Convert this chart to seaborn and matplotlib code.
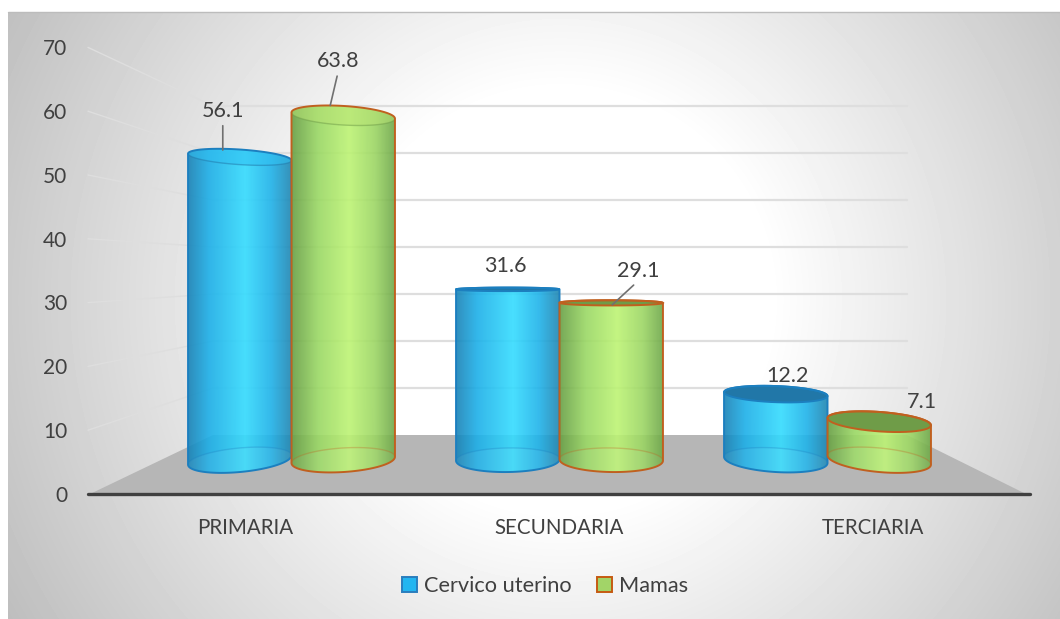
# Cylinder chart: cancer screening by level of care
import numpy as np
import pandas as pd
import seaborn as sns
import matplotlib.pyplot as plt
from matplotlib.colors import LinearSegmentedColormap
from matplotlib.patches import Patch, PathPatch, Polygon
from matplotlib.path import Path

niveles = ['PRIMARIA', 'SECUNDARIA', 'TERCIARIA']
cervico = [56.1, 31.6, 12.2]
mamas = [63.8, 29.1, 7.1]
series = ['Cervico uterino', 'Mamas']
y_ticks = [0, 10, 20, 30, 40, 50, 60, 70]

df = pd.DataFrame({
    'nivel': niveles * 2,
    'pct': cervico + mamas,
    'tipo': [series[0]] * 3 + [series[1]] * 3})

W, H = 1060, 619
sns.set_theme(style='white')
plt.rcParams['font.family'] = ['Lato', 'DejaVu Sans']
text_col = '#404040'

fig = plt.figure(figsize=(W / 100, H / 100), dpi=100, facecolor='white')


def px_axes(left, top, right, bottom, z):
    a = fig.add_axes([left / W, 1 - bottom / H, (right - left) / W, (bottom - top) / H], zorder=z)
    a.patch.set_visible(False)
    return a


# background in pixel coordinates: panel, floor, back wall lines, side wall lines
bg = px_axes(0, 0, W, H, 0)
xx, yy = np.meshgrid(np.arange(8, W), np.arange(12, H))
dist = np.sqrt((xx - 560) ** 2 + (yy - 300) ** 2)
shade = 1 - 0.0006 * np.clip(dist - 210, 0, None)
bg.imshow(shade, cmap='gray', vmin=0, vmax=1, extent=(8, W, H, 12), aspect='auto')
bg.plot([8, W], [12, 12], color='#bcbcbc', lw=1)
bg.add_patch(Polygon([(90, 494), (213, 435), (907, 435), (1026, 494)], color='#b6b6b6', lw=0))
for v in y_ticks[1:]:
    back_y = 435 - 4.7 * v
    bg.plot([213, 907], [back_y, back_y], color='#dedede', lw=1.6)
    bg.plot([88, 213], [494 - 6.38 * v, back_y], color='#dedede', lw=1)
bg.set_xlim(0, W)
bg.set_ylim(H, 0)
bg.axis('off')

# front axis with the tick labels
ax = px_axes(88, 47, 1030, 494, 1)
ax.set_xlim(-0.5, 2.5)
ax.set_ylim(0, 70)
ax.set_xticks(range(3), niveles)
ax.set_yticks(y_ticks)
ax.tick_params(axis='x', length=0, pad=17, colors=text_col, labelsize=14.8)
ax.tick_params(axis='y', length=0, pad=15, colors=text_col, labelsize=15)
sns.despine(ax=ax, left=True)
ax.spines['bottom'].set_color(text_col)
ax.spines['bottom'].set_linewidth(2.4)
ax.spines['bottom'].set_capstyle('round')

# bars live on their own axes, the depth of the chart gives them a smaller scale
PX_X, PX_Y = 268, 5.4
LEFT, BASE = 157.5, 460
Y_LOW = -6  # room under zero for the round base of the cylinders
ax_bars = px_axes(LEFT, BASE - PX_Y * 70, LEFT + PX_X * 3, BASE - PX_Y * Y_LOW, 2)
sns.barplot(data=df, x='nivel', y='pct', hue='tipo', order=niveles, hue_order=series,
            palette=['#22b5f0', '#a2d468'], saturation=1, width=0.772, gap=0,
            legend=False, ax=ax_bars)

cyl_maps = [
    LinearSegmentedColormap.from_list('azul', [
        (0, '#1882b6'), (0.2, '#1cafe8'), (0.55, '#34dcff'), (0.8, '#1fb3ea'), (1, '#2085b1')]),
    LinearSegmentedColormap.from_list('verde', [
        (0, '#68a045'), (0.25, '#9ad864'), (0.55, '#bdf474'), (0.8, '#9cd664'), (1, '#6ca548')])]
edge_cols = ['#1c7fbf', '#c0601f']
lid_light = ['#30c0f2', '#b6e274']
lid_dark = ['#2177a8', '#6f9c48']
HORIZON = 32.5


def ring(x0, bar_w, v, t0, t1):
    # part of the cylinder's ellipse at value v, in data coordinates
    cx = x0 + bar_w / 2
    slope = 1.6e-6 * (BASE - PX_Y * v - 285) * (LEFT + PX_X * (cx + 0.5) - 560)
    rise = 0.12 if v < HORIZON else 0.095
    height = 3 + rise * abs(v - HORIZON) * PX_Y
    t = np.linspace(t0, t1, 50)
    dx = bar_w * PX_X / 2 * np.cos(t)
    dy = height / 2 * np.sin(t) - slope * dx
    return np.column_stack([cx + dx / PX_X, v + dy / PX_Y])


for s, container in enumerate(ax_bars.containers):
    z = 3 + s
    for bar in container:
        x0, bar_w, v = bar.get_x(), bar.get_width(), bar.get_height()
        bar.set_facecolor('none')
        bar.set_edgecolor('none')
        outline = np.vstack([ring(x0, bar_w, 0, np.pi, 2 * np.pi), ring(x0, bar_w, v, 0, np.pi)])
        shape = Path(np.vstack([outline, outline[:1]]), closed=True)
        im = ax_bars.imshow(np.linspace(0, 1, 256)[None, :], cmap=cyl_maps[s], alpha=0.9,
                            extent=(x0, x0 + bar_w, Y_LOW, v + 6), aspect='auto', zorder=z)
        im.set_clip_path(shape, transform=ax_bars.transData)
        # base ellipse seen through the wall
        base_ring = ring(x0, bar_w, 0, 0, 2 * np.pi)
        ax_bars.add_patch(Polygon(base_ring, fc='white', alpha=0.05, lw=0, zorder=z))
        ax_bars.plot(*ring(x0, bar_w, 0, 0, np.pi).T, color=edge_cols[s], alpha=0.3, lw=1, zorder=z)
        # lid: dark when seen from above, pale when seen through from below
        lid = ring(x0, bar_w, v, 0, 2 * np.pi)
        if v < HORIZON:
            ax_bars.add_patch(Polygon(lid, fc=lid_dark[s], ec=edge_cols[s], lw=1.4, zorder=z))
        else:
            ax_bars.add_patch(Polygon(lid, fc=lid_light[s], alpha=0.55, lw=0, zorder=z))
            ax_bars.plot(*ring(x0, bar_w, v, np.pi, 2 * np.pi).T, color=lid_dark[s], alpha=0.5,
                         lw=1, zorder=z)
        ax_bars.add_patch(PathPatch(shape, fill=False, ec=edge_cols[s], lw=1.4, zorder=z))

# value labels, some with a leader line: (label dx, dy, leader end dx, dy) in pixels from the bar top
label_spots = [
    [(-17, 46, -17, 7), (-2, 23, None, None), (12, 18, None, None)],
    [(-5, 54, -13, 10), (27, 32, 1, -2), (43, 20, None, None)]]
for s, container in enumerate(ax_bars.containers):
    for bar, (dx, dy, ex, ey) in zip(container, label_spots[s]):
        top = (bar.get_x() + bar.get_width() / 2, bar.get_height())
        label = f'{bar.get_height():.1f}'
        if ex is None:
            ax_bars.annotate(label, top, xytext=(dx, dy), textcoords='offset pixels', ha='center',
                             va='center', color=text_col, fontsize=15.5, zorder=10)
        else:
            end = (top[0] + ex / PX_X, top[1] + ey / PX_Y)
            ax_bars.annotate(label, end, xytext=(dx - ex, dy - ey), textcoords='offset pixels',
                             ha='center', va='center', color=text_col, fontsize=15.5, zorder=10,
                             arrowprops=dict(arrowstyle='-', color='#707070', lw=1.2, relpos=(0.5, 0),
                                             shrinkA=1, shrinkB=0))

ax_bars.set_xlim(-0.5, 2.5)
ax_bars.set_ylim(Y_LOW, 70)
ax_bars.axis('off')

handles = [Patch(fc='#22b5f0', ec='#2a7dbd', lw=1.4), Patch(fc='#a2d468', ec='#c55a11', lw=1.4)]
leg = fig.legend(handles, series, loc='center', bbox_to_anchor=(545 / W, 1 - 586 / H), ncol=2,
                 frameon=False, handlelength=0.68, handleheight=0.68, handletextpad=0.3,
                 columnspacing=1.2, fontsize=15.7, labelcolor=text_col)

fig.savefig('out.png', dpi=100)
